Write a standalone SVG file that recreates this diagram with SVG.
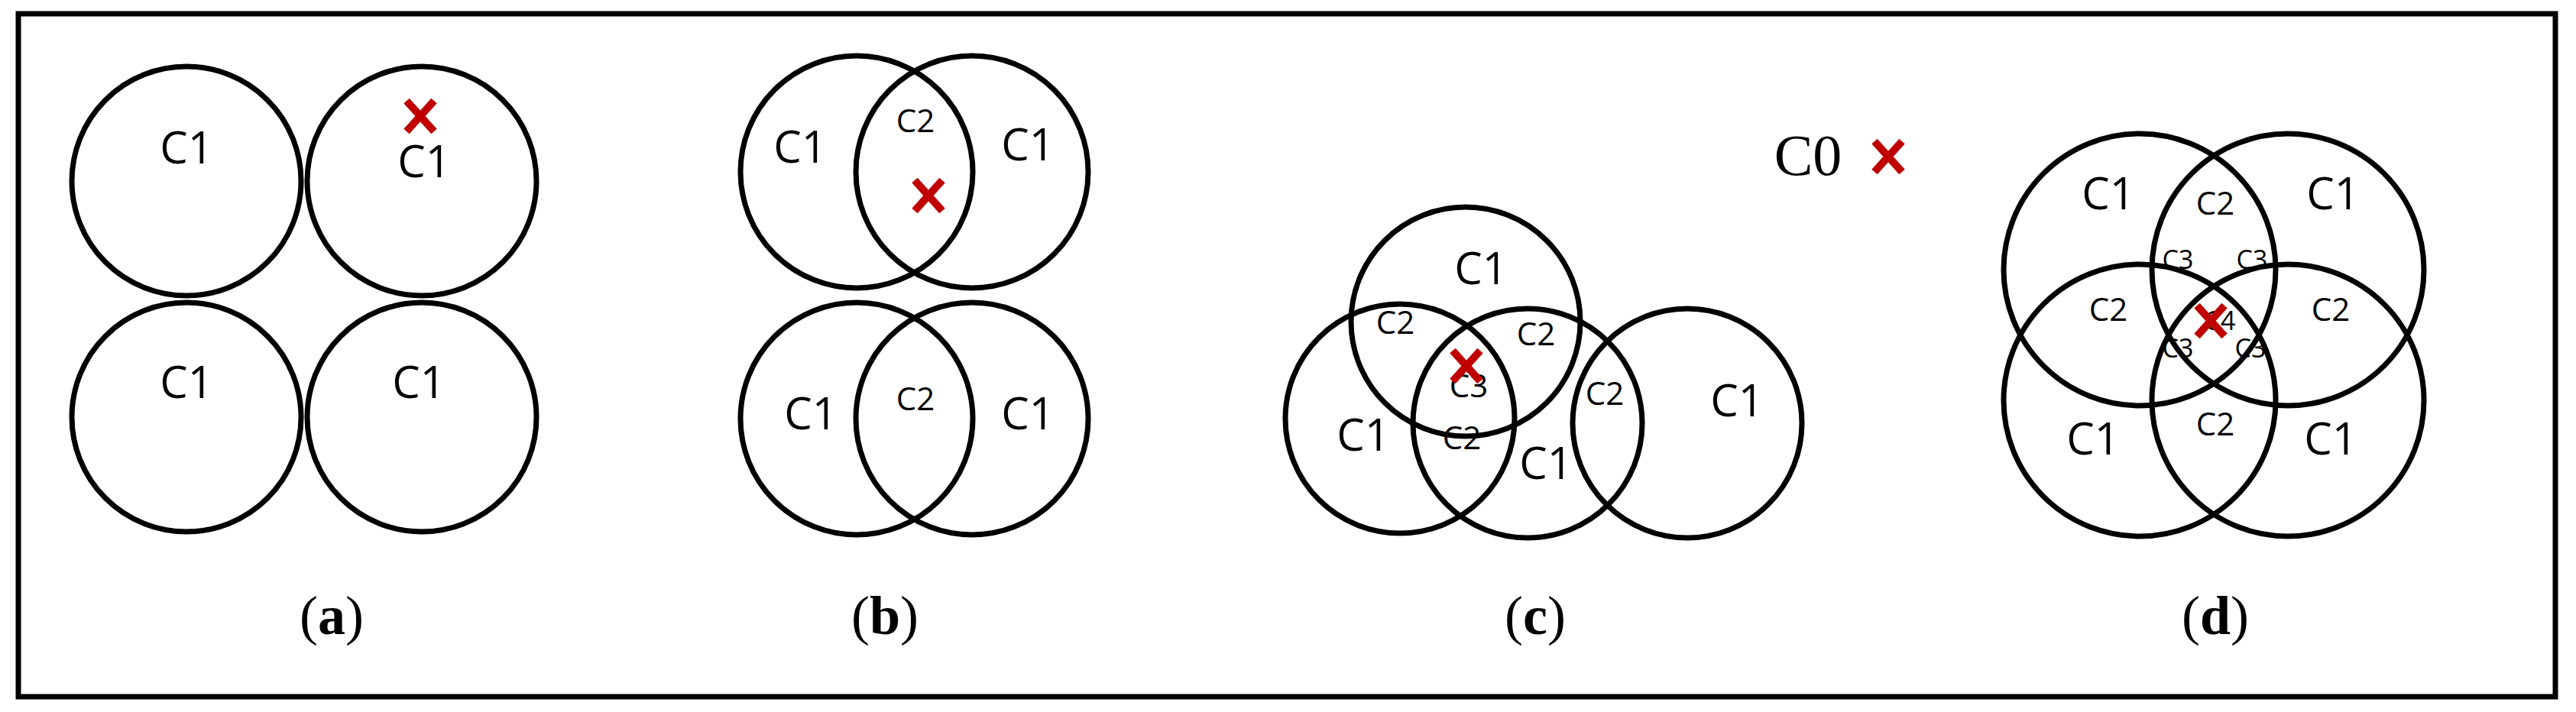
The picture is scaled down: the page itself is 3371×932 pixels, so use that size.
<svg xmlns="http://www.w3.org/2000/svg" width="3371" height="932" viewBox="0 0 3371 932">
<style>
.c{fill:none;stroke:#000;stroke-width:7}
.t{font-family:"Open Sans","Liberation Sans",sans-serif;font-size:58px;text-anchor:middle;fill:#000}
.s{font-family:"Open Sans","Liberation Sans",sans-serif;font-size:42px;text-anchor:middle;fill:#000}
.xs{font-family:"Open Sans","Liberation Sans",sans-serif;font-size:34px;text-anchor:middle;fill:#000}
.l{font-family:"Liberation Serif",serif;font-size:72px;text-anchor:middle;fill:#000}
.x{fill:none;stroke:#c00000;stroke-width:10}
</style>
<defs><path id="x" class="x" d="M-18,-20L18,20M18,-20L-18,20"/></defs>
<rect x="24" y="18" width="3320" height="894" fill="#fff" stroke="#000" stroke-width="7"/>
<g id="a">
<circle class="c" cx="244" cy="237" r="150"/><circle class="c" cx="552" cy="237" r="150"/>
<circle class="c" cx="244" cy="546" r="150"/><circle class="c" cx="552" cy="546" r="150"/>
<text class="t" x="244" y="214">C1</text><text class="t" x="555" y="232">C1</text>
<text class="t" x="244" y="521">C1</text><text class="t" x="548" y="521">C1</text>
<use href="#x" x="550" y="152"/>
<text class="l" x="434" y="830">(<tspan font-weight="bold">a</tspan>)</text>
</g>
<g id="b">
<circle class="c" cx="1121" cy="225" r="152"/><circle class="c" cx="1272" cy="225" r="152"/>
<circle class="c" cx="1121" cy="548" r="152"/><circle class="c" cx="1272" cy="548" r="152"/>
<text class="t" x="1047" y="213">C1</text><text class="t" x="1345" y="210">C1</text>
<text class="s" x="1198" y="173">C2</text>
<use href="#x" x="1215" y="256"/>
<text class="t" x="1061" y="562">C1</text><text class="s" x="1198" y="537">C2</text><text class="t" x="1345" y="562">C1</text>
<text class="l" x="1158" y="830">(<tspan font-weight="bold">b</tspan>)</text>
</g>
<g id="c">
<circle class="c" cx="1918" cy="421" r="150"/><circle class="c" cx="1832" cy="548" r="150"/>
<circle class="c" cx="1999" cy="554" r="150"/><circle class="c" cx="2208" cy="554" r="150"/>
<text class="t" x="1938" y="372">C1</text>
<text class="s" x="1826" y="437">C2</text><text class="s" x="2010" y="452">C2</text>
<text class="s" x="1922" y="520">C3</text>
<use href="#x" x="1919" y="479"/>
<text class="s" x="1913" y="588">C2</text>
<text class="t" x="1784" y="590">C1</text><text class="t" x="2023" y="627">C1</text>
<text class="s" x="2100" y="530">C2</text><text class="t" x="2273" y="545">C1</text>
<text class="l" x="2009" y="830">(<tspan font-weight="bold">c</tspan>)</text>
</g>
<g id="c0">
<text x="2366" y="229" font-family="Liberation Serif,serif" font-size="76" text-anchor="middle">C0</text>
<use href="#x" x="2471" y="205"/>
</g>
<g id="d">
<circle class="c" cx="2800" cy="353" r="178"/><circle class="c" cx="2994" cy="353" r="178"/>
<circle class="c" cx="2800" cy="524" r="178"/><circle class="c" cx="2994" cy="524" r="178"/>
<text class="t" x="2759" y="274">C1</text><text class="t" x="3053" y="274">C1</text>
<text class="s" x="2899" y="281">C2</text>
<text class="xs" x="2850" y="352">C3</text><text class="xs" x="2947" y="352">C3</text>
<text class="s" x="2759" y="420">C2</text><text class="s" x="3050" y="420">C2</text>
<text class="xs" x="2905" y="432">C4</text>
<use href="#x" x="2893" y="420"/>
<text class="xs" x="2850" y="468">C3</text><text class="xs" x="2945" y="468">C3</text>
<text class="s" x="2899" y="570">C2</text>
<text class="t" x="2739" y="595">C1</text><text class="t" x="3050" y="595">C1</text>
<text class="l" x="2899" y="830">(<tspan font-weight="bold">d</tspan>)</text>
</g>
</svg>
